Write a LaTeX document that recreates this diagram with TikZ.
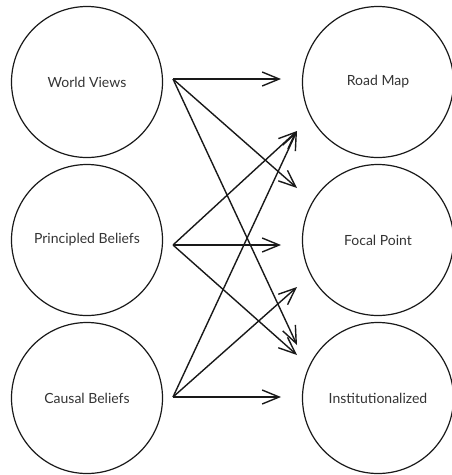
\documentclass[tikz,border=0pt]{standalone}
\usepackage{fontspec}
\setmainfont{Lato}
\usetikzlibrary{positioning,arrows.meta}

\begin{document}
\begin{tikzpicture}[x=1pt,y=-1pt,
    -{Straight Barb[length=17pt,width=14pt]},
    node distance = 158pt and 291pt ,on grid ,
    line width=1.4pt, draw=black!90,
    idea/.style ={circle ,draw , -, line width=1.2pt,
    minimum size=151pt, inner sep=0pt, text=black!80,
    font=\fontsize{14}{16}\selectfont}
    ]
    \useasboundingbox (0,0) rectangle (451,475);
    \node[idea] (WV) at (87,82) {World Views};
    \node[idea] (PB) [below = of WV] {Principled Beliefs};
    \node[idea] (CB) [below = of PB] {Causal Beliefs};
    \node[idea] (RM) [right = of WV] {Road Map};
    \node[idea] (FP) [right = of PB] {Focal Point};
    \node[idea] (IN) [right = of CB] {Institutionalized};
    % where the arrows leave and arrive
    \coordinate (WVo) at (173,79);
    \coordinate (PBo) at (173,245);
    \coordinate (CBo) at (173,397);
    \coordinate (RMa) at (281,79);
    \coordinate (RMb) at (297,131);
    \coordinate (FPa) at (297,188);
    \coordinate (FPb) at (281,245);
    \coordinate (FPc) at (297,287);
    \coordinate (INa) at (297,345);
    \coordinate (INb) at (297,355);
    \coordinate (INc) at (281,397);
    \draw (WVo) -- (RMa);
    \draw (WVo) -- (FPa);
    \draw (WVo) -- (INa);
    \draw (PBo) -- (RMb);
    \draw (PBo) -- (FPb);
    \draw (PBo) -- (INb);
    \draw (CBo) -- (RMb);
    \draw (CBo) -- (FPc);
    \draw (CBo) -- (INc);
\end{tikzpicture}
\end{document}
